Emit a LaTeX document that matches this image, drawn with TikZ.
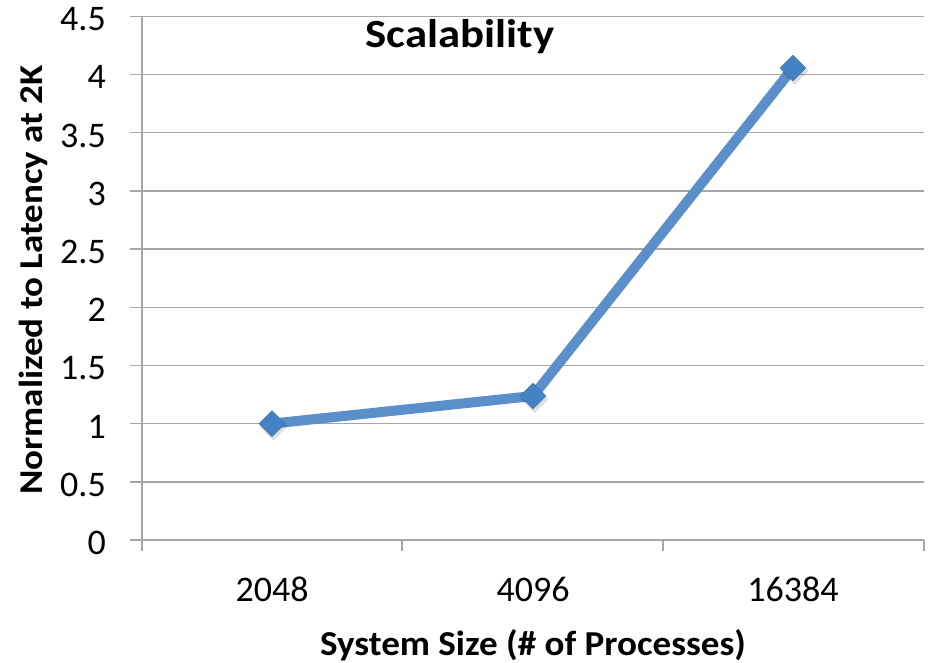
\documentclass[tikz,border=0pt]{standalone}
\usepackage{fontspec}
\setmainfont{Carlito}
\usetikzlibrary{shapes.geometric}
\definecolor{gridgray}{HTML}{A6A6A6}
\definecolor{serline}{HTML}{5B8FC9}
\definecolor{sermark}{HTML}{4382C4}
\tikzset{
  grid line/.style={draw=gridgray, line width=1.4pt},
  ytick/.style={anchor=east, font=\fontsize{36}{40}\selectfont, inner sep=0pt},
  xtick/.style={anchor=center, font=\fontsize{36}{40}\selectfont, inner sep=0pt},
  axtitle/.style={font=\bfseries\fontsize{35}{40}\selectfont, inner sep=0pt},
  marker/.style={diamond, fill=sermark, draw=sermark!85!black, line width=0.4pt, minimum width=26pt, minimum height=26pt, inner sep=0pt},
  series/.style={draw=serline, line width=10pt, line join=round}
}
\begin{document}
\begin{tikzpicture}[x=1pt, y=-1pt]
\useasboundingbox (0,0) rectangle (932,662);
% horizontal gridlines and y labels
\foreach \i/\lab in {0/0,1/0.5,2/1,3/1.5,4/2,5/2.5,6/3,7/3.5,8/4,9/4.5}{
  \pgfmathsetmacro{\yy}{540-\i*58.2}
  \coordinate (gl\i) at (130,\yy);
  \coordinate (gr\i) at (924,\yy);
  \draw[grid line] (gl\i) -- (gr\i);
  \node[ytick] (yl\i) at (106,\yy+3) {\lab};
}
% vertical axis
\coordinate (ax0) at (142,16);
\coordinate (ax1) at (142,551);
\draw[grid line] (ax0) -- (ax1);
% x ticks
\foreach \k/\xx in {1/402,2/663,3/924}{
  \coordinate (xt\k a) at (\xx,540);
  \coordinate (xt\k b) at (\xx,551);
  \draw[grid line] (xt\k a) -- (xt\k b);
}
% x labels
\node[xtick] (x1) at (272,589) {2048};
\node[xtick] (x2) at (533,589) {4096};
\node[xtick] (x3) at (793,589) {16384};
% titles
\node[axtitle, anchor=base] (xtitle) at (533,655) {\scalebox{1.06}[1]{System Size (\# of Processes)}};
\node[axtitle, rotate=90, font=\bfseries\fontsize{37}{40}\selectfont] (ytitle) at (33,280) {\scalebox{1}[0.9]{Normalized to Latency at 2K}};
\node[axtitle, anchor=base, font=\bfseries\fontsize{40}{44}\selectfont] (title) at (460,47) {\scalebox{1.12}[1]{Scalability}};
% data
\coordinate (p1) at (272,423.6);
\coordinate (p2) at (533,396);
\coordinate (p3) at (793,68);
\draw[series] (p1) -- (p2) -- (p3);
\foreach \p in {p1,p2,p3}{
  \fill[black, opacity=0.13] ([shift={(1.5,3)}]\p) ++(0,-14) -- ++(14,14) -- ++(-14,14) -- ++(-14,-14) -- cycle;
}
\node[marker] (m1) at (p1) {};
\node[marker] (m2) at (p2) {};
\node[marker] (m3) at (p3) {};
\end{tikzpicture}
\end{document}
